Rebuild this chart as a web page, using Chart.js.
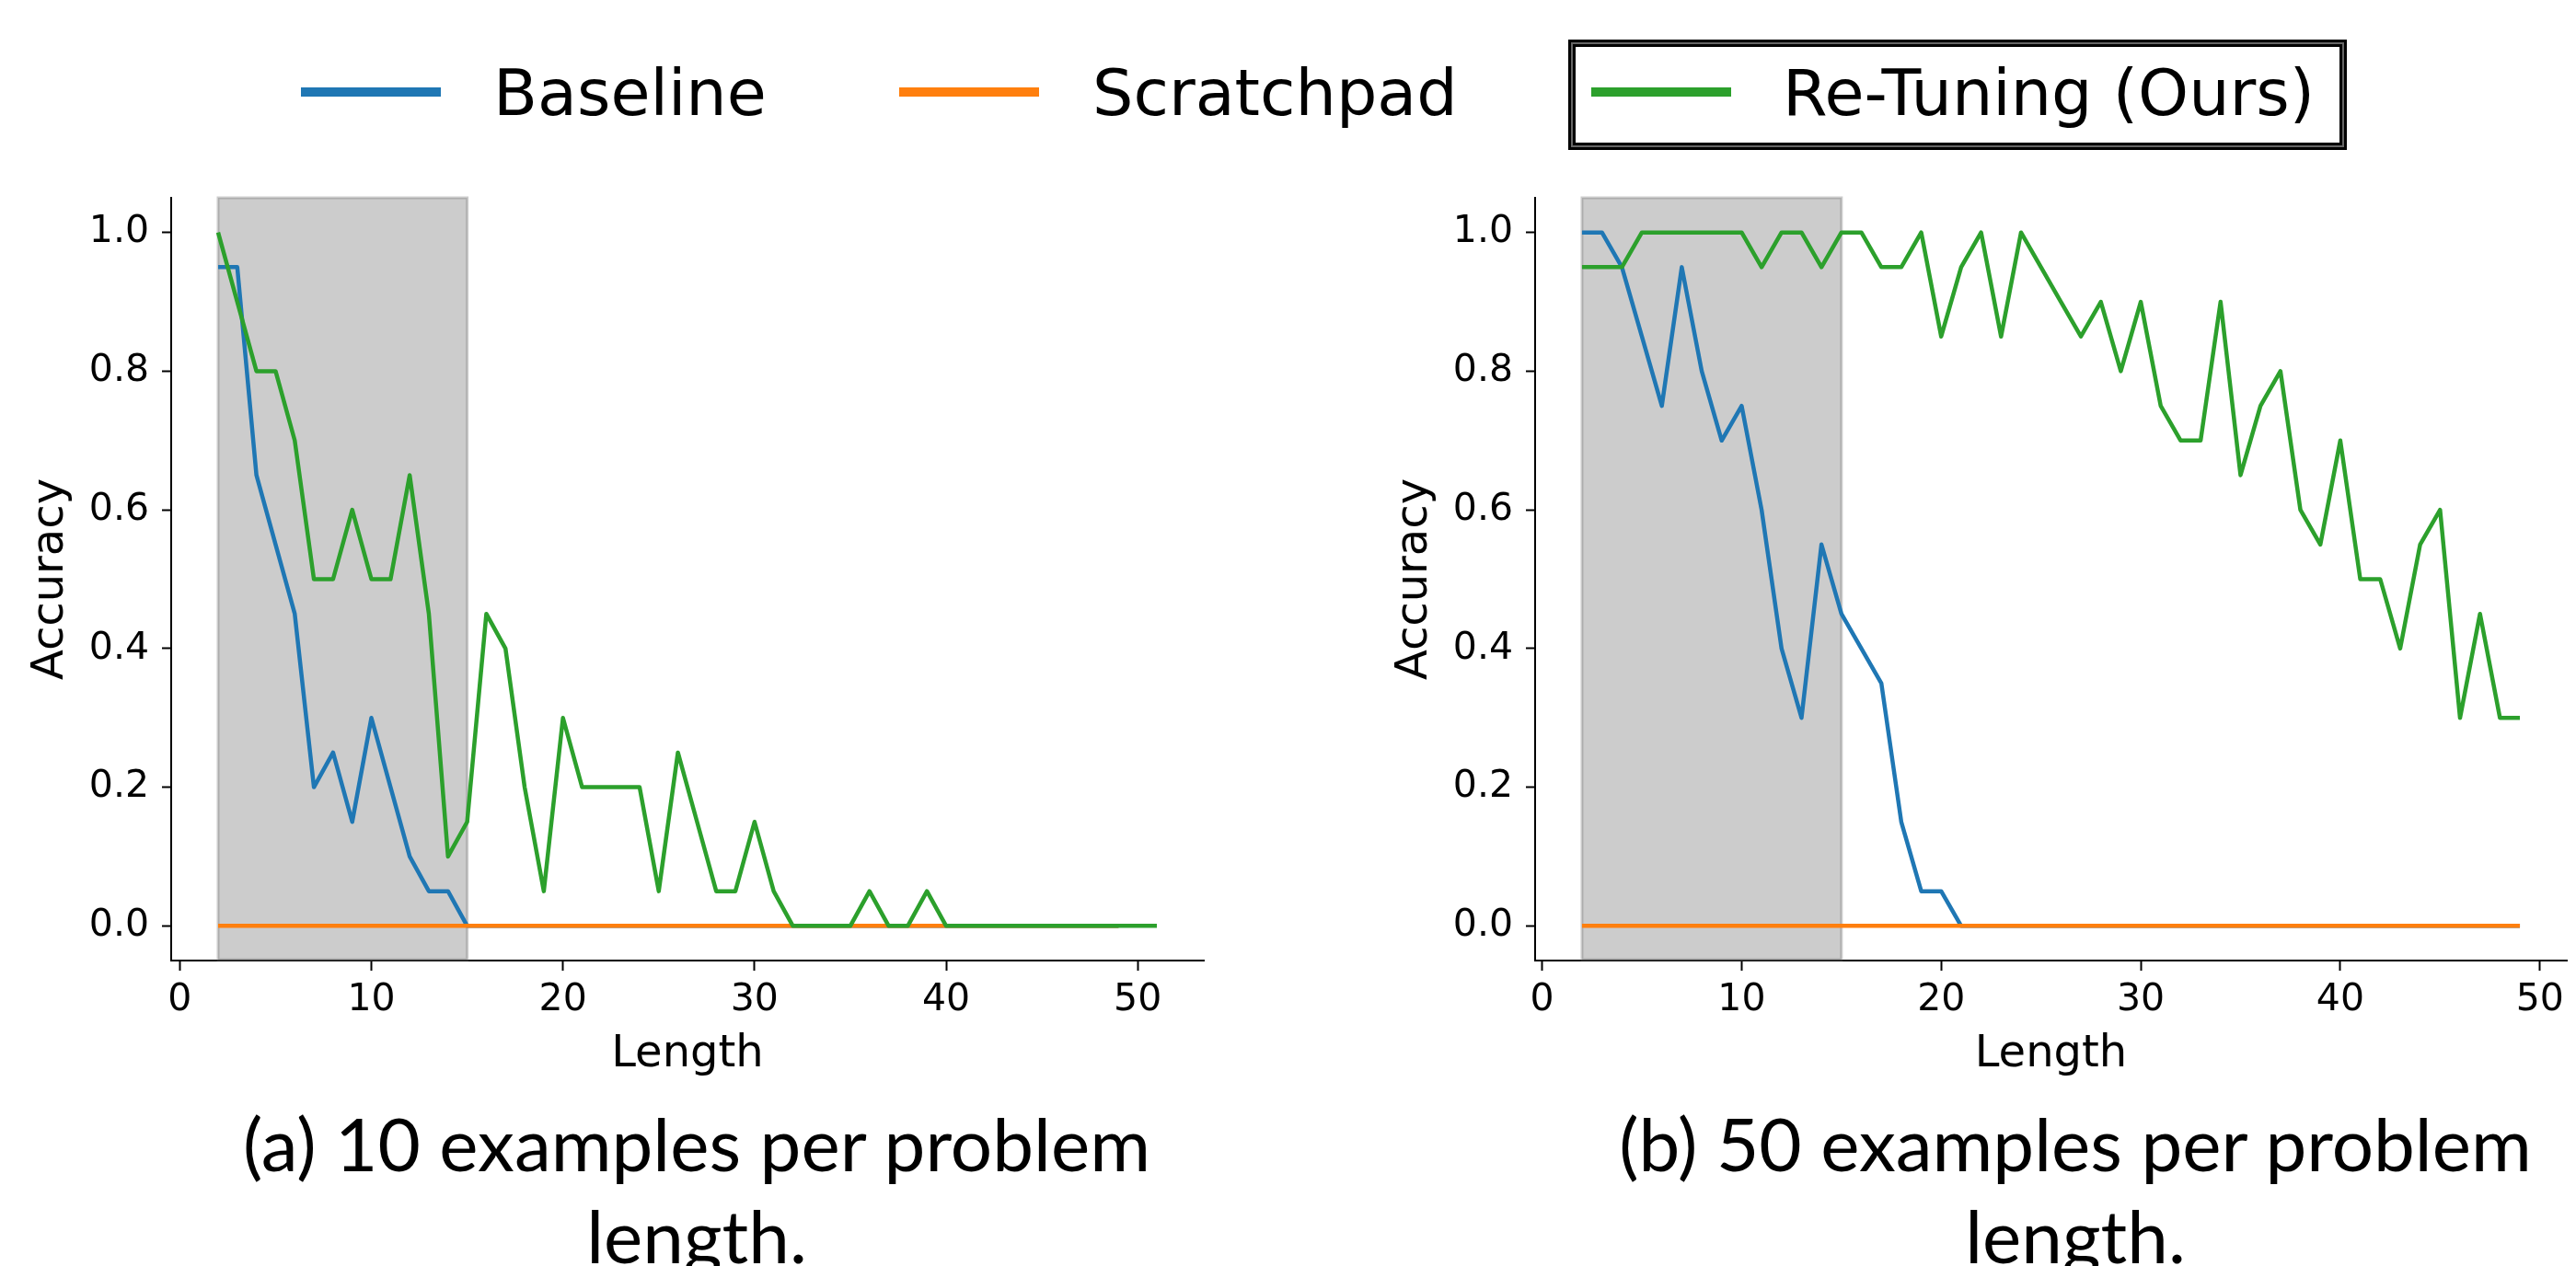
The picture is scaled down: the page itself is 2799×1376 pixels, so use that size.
<!DOCTYPE html>
<html>
<head>
<meta charset="utf-8">
<script src="https://cdn.jsdelivr.net/npm/chart.js@4.4.1/dist/chart.umd.min.js"></script>
<style>
  html, body { margin: 0; background: #fff; }
  body { width: 2799px; height: 1376px; position: relative; overflow: hidden; font-family: "DejaVu Sans", sans-serif; }
  .panel { position: absolute; top: 0; width: 1317px; height: 1200px; }
  .legend-line { position: absolute; top: 95px; width: 152px; height: 10px; }
  .legend-text { position: absolute; top: 66px; font-size: 70px; line-height: 70px; white-space: nowrap; color: #000; }
  .frame { position: absolute; left: 1704px; top: 43px; width: 846px; height: 120px; box-sizing: border-box;
           border: 3px solid #000; box-shadow: inset 0 0 0 2px #666, inset 0 0 0 5px #000; }
  .caption { position: absolute; top: 1192px; width: 1300px; text-align: center; color: #000;
             font-family: Lato, "Open Sans", sans-serif; font-size: 80px; line-height: 100px; }
</style>
</head>
<body>
<div class="frame"></div>
<div id="legend"></div>
<div class="panel" style="left:0"><canvas id="chart-a"></canvas></div>
<div class="panel" style="left:1482px"><canvas id="chart-b"></canvas></div>
<div class="caption" style="left:107px">(a) 10 examples per problem<br>length.</div>
<div class="caption" style="left:1605px">(b) 50 examples per problem<br>length.</div>
<script>
// Accuracy vs. problem length (10 and 50 training examples per length).
const SERIES = ["Baseline", "Scratchpad", "Re-Tuning (Ours)"];
const COLORS = ["#1f77b4", "#ff7f0e", "#2ca02c"];
const TRAIN_SPAN = [2, 15];          // shaded in-distribution lengths
const X_TICKS = [0, 10, 20, 30, 40, 50];
const Y_TICKS = [0, 0.2, 0.4, 0.6, 0.8, 1.0];

const LEN_49 = [2, 3, 4, 5, 6, 7, 8, 9, 10, 11, 12, 13, 14, 15, 16, 17, 18, 19, 20, 21, 22, 23, 24, 25,
  26, 27, 28, 29, 30, 31, 32, 33, 34, 35, 36, 37, 38, 39, 40, 41, 42, 43, 44, 45, 46, 47, 48, 49];
const LEN_51 = [2, 3, 4, 5, 6, 7, 8, 9, 10, 11, 12, 13, 14, 15, 16, 17, 18, 19, 20, 21, 22, 23, 24, 25,
  26, 27, 28, 29, 30, 31, 32, 33, 34, 35, 36, 37, 38, 39, 40, 41, 42, 43, 44, 45, 46, 47, 48, 49, 50, 51];

// (a) 10 examples per problem length
const BASE_A = [0.95, 0.95, 0.65, 0.55, 0.45, 0.20, 0.25, 0.15, 0.30, 0.20, 0.10, 0.05, 0.05, 0.00,
  0, 0, 0, 0, 0, 0, 0, 0, 0, 0, 0, 0, 0, 0, 0, 0, 0, 0, 0, 0, 0, 0, 0, 0, 0, 0, 0, 0, 0, 0, 0, 0, 0, 0];
const SCRATCH_A = [0, 0, 0, 0, 0, 0, 0, 0, 0, 0, 0, 0, 0, 0, 0, 0, 0, 0, 0, 0, 0, 0, 0, 0,
  0, 0, 0, 0, 0, 0, 0, 0, 0, 0, 0, 0, 0, 0, 0, 0, 0, 0, 0, 0, 0, 0, 0, 0];
const RETUNE_A = [1.00, 0.90, 0.80, 0.80, 0.70, 0.50, 0.50, 0.60, 0.50, 0.50, 0.65, 0.45, 0.10, 0.15,
  0.45, 0.40, 0.20, 0.05, 0.30, 0.20, 0.20, 0.20, 0.20, 0.05, 0.25, 0.15, 0.05, 0.05, 0.15, 0.05,
  0, 0, 0, 0, 0.05, 0, 0, 0.05, 0, 0, 0, 0, 0, 0, 0, 0, 0, 0, 0, 0];

// (b) 50 examples per problem length
const BASE_B = [1.00, 1.00, 0.95, 0.85, 0.75, 0.95, 0.80, 0.70, 0.75, 0.60, 0.40, 0.30, 0.55, 0.45,
  0.40, 0.35, 0.15, 0.05, 0.05, 0.00, 0, 0, 0, 0, 0, 0, 0, 0, 0, 0, 0, 0, 0, 0, 0, 0, 0, 0, 0, 0,
  0, 0, 0, 0, 0, 0, 0, 0];
const SCRATCH_B = [0, 0, 0, 0, 0, 0, 0, 0, 0, 0, 0, 0, 0, 0, 0, 0, 0, 0, 0, 0, 0, 0, 0, 0,
  0, 0, 0, 0, 0, 0, 0, 0, 0, 0, 0, 0, 0, 0, 0, 0, 0, 0, 0, 0, 0, 0, 0, 0];
const RETUNE_B = [0.95, 0.95, 0.95, 1.00, 1.00, 1.00, 1.00, 1.00, 1.00, 0.95, 1.00, 1.00, 0.95, 1.00,
  1.00, 0.95, 0.95, 1.00, 0.85, 0.95, 1.00, 0.85, 1.00, 0.95, 0.90, 0.85, 0.90, 0.80, 0.90, 0.75,
  0.70, 0.70, 0.90, 0.65, 0.75, 0.80, 0.60, 0.55, 0.70, 0.50, 0.50, 0.40, 0.55, 0.60, 0.30, 0.45,
  0.30, 0.30];

const FONT = "DejaVu Sans";

// legend across the top, Re-Tuning boxed
const LEGEND_X = [[327, 536], [977, 1187], [1729, 1937]];
document.getElementById("legend").innerHTML = SERIES.map((s, i) =>
  `<div class="legend-line" style="left:${LEGEND_X[i][0]}px;background:${COLORS[i]}"></div>
   <div class="legend-text" style="left:${LEGEND_X[i][1]}px">${s}</div>`).join("");

const spanPlugin = {
  id: "trainSpan",
  beforeDatasetsDraw(chart) {
    const { ctx, chartArea: a, scales: { x } } = chart;
    const x0 = x.getPixelForValue(TRAIN_SPAN[0]), x1 = x.getPixelForValue(TRAIN_SPAN[1]);
    ctx.save();
    ctx.fillStyle = "rgba(128,128,128,0.4)";
    ctx.fillRect(x0, a.top, x1 - x0, a.bottom - a.top - 1);
    ctx.strokeStyle = "rgba(128,128,128,0.4)";
    ctx.lineWidth = 3;
    ctx.strokeRect(x0, a.top, x1 - x0, a.bottom - a.top - 1);
    ctx.restore();
  },
};

function makeChart(id, lengths, values, xRange, padRight) {
  const datasets = SERIES.map((name, i) => ({
    label: name,
    data: lengths[i].map((x, j) => ({ x, y: values[i][j] })),
    borderColor: COLORS[i], backgroundColor: COLORS[i],
    borderWidth: 4.5, pointRadius: 0, tension: 0, fill: false,
    borderJoinStyle: "round", order: 3 - i,
  }));
  const border = { display: true, color: "#000", width: 2 };
  return new Chart(document.getElementById(id), {
    type: "line",
    data: { datasets },
    plugins: [spanPlugin],
    options: {
      responsive: true, maintainAspectRatio: false, animation: false, devicePixelRatio: 1,
      layout: { padding: { top: 215, right: padRight, left: 0, bottom: 0 } },
      plugins: { legend: { display: false }, tooltip: { enabled: false } },
      scales: {
        x: {
          type: "linear", min: xRange[0], max: xRange[1],
          afterBuildTicks: (s) => { s.ticks = X_TICKS.map((v) => ({ value: v })); },
          afterFit: (s) => { s.height = 156; },
          border,
          grid: { drawOnChartArea: false, drawTicks: true, tickLength: 11, tickWidth: 2, tickColor: "#000" },
          ticks: { color: "#000", font: { family: FONT, size: 41 }, padding: 8, maxRotation: 0, autoSkip: false },
          title: { display: true, text: "Length", color: "#000", font: { family: FONT, size: 48 }, padding: { top: 0, bottom: 25 } },
        },
        y: {
          min: -0.05, max: 1.05,
          afterBuildTicks: (s) => { s.ticks = Y_TICKS.map((v) => ({ value: v })); },
          afterFit: (s) => { s.width = 186; },
          border,
          grid: { drawOnChartArea: false, drawTicks: true, tickLength: 10, tickWidth: 2, tickColor: "#000" },
          ticks: { color: "#000", font: { family: FONT, size: 41 }, padding: 14, callback: (v) => v.toFixed(1) },
          title: { display: true, text: "Accuracy", color: "#000", font: { family: FONT, size: 48 }, padding: { top: 27, bottom: 0 } },
        },
      },
    },
  });
}

makeChart("chart-a", [LEN_49, LEN_49, LEN_51], [BASE_A, SCRATCH_A, RETUNE_A], [-0.45, 53.45], 9);
makeChart("chart-b", [LEN_49, LEN_49, LEN_49], [BASE_B, SCRATCH_B, RETUNE_B], [-0.35, 51.35], 10);
</script>
</body>
</html>
